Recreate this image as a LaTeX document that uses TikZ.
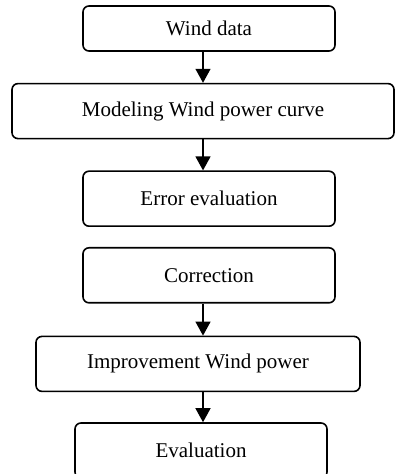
\documentclass[tikz,border=0pt]{standalone}
\usepackage{fontspec}
\setmainfont{Liberation Serif}
\usetikzlibrary{positioning,arrows.meta}
\begin{document}
\begin{tikzpicture}
            \tikzset{Block/.style={%
                shape=rectangle,%
                draw=black,%
                line width=0.8pt,%
                rounded corners=3pt,%
                minimum width=126pt,%
                minimum height=27.5pt,%
                inner sep=0pt,%
                font=\fontsize{10.5pt}{12pt}\selectfont,%
            }}
            \tikzset{Flow/.style={%
                -{Triangle[length=7pt,width=7.5pt]},%
                line width=0.7pt,%
            }}

            \useasboundingbox (0,0) rectangle (197.5pt,-237pt);

            \node[Block, minimum height=22.5pt] (wind) at (104.5pt,-14.25pt) {Wind data};
            \node[Block, minimum width=191pt, below=15.5pt of wind, xshift=-3pt] (model) {Modeling Wind power curve};
            \node[Block, below=15.5pt of model, xshift=3pt] (error) {Error evaluation};
            \node[Block, below=10pt of error] (correct) {Correction};
            \node[Block, minimum width=162pt, below=16pt of correct, xshift=-5.5pt] (improve) {Improvement Wind power};
            \node[Block, below=15pt of improve, xshift=1.5pt] (eval) {Evaluation};

            \draw[Flow] (wind.south -| model.north) -- (model.north);
            \draw[Flow] (model.south) -- (error.north -| model.south);
            \draw[Flow] (correct.south -| model.south) -- (improve.north -| model.south);
            \draw[Flow] (improve.south -| model.south) -- (eval.north -| model.south);
        \end{tikzpicture}
\end{document}
